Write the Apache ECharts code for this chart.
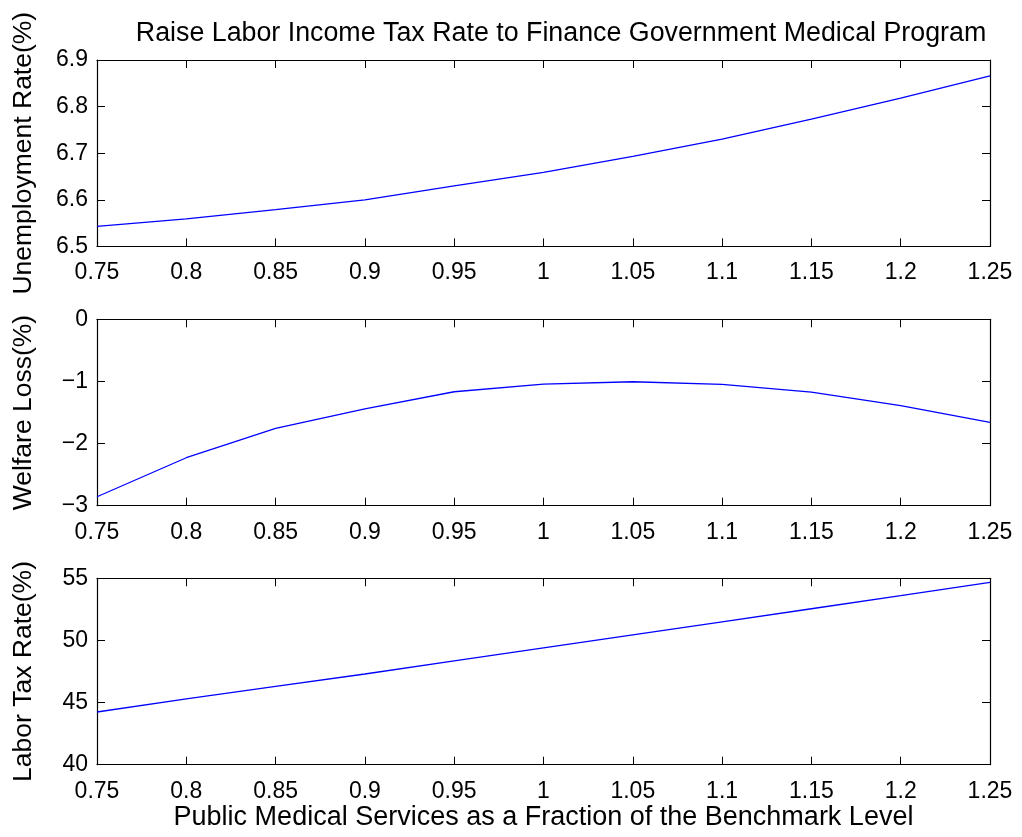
<!DOCTYPE html>
<html>
<head>
<meta charset="utf-8">
<script src="https://cdn.jsdelivr.net/npm/echarts@6/dist/echarts.min.js"></script>
<style>
  html, body { margin: 0; padding: 0; background: #fff; }
  #chart { width: 1022px; height: 837px; }
</style>
</head>
<body>
<div id="chart"></div>
<script>
// Public medical services relative to the benchmark level
const fractions = [0.75, 0.8, 0.85, 0.9, 0.95, 1.0, 1.05, 1.1, 1.15, 1.2, 1.25];

// Unemployment rate (%)
const unemploymentRate = [6.543, 6.559, 6.579, 6.600, 6.630, 6.659, 6.693, 6.730, 6.773, 6.818, 6.866];
// Welfare loss (%)
const welfareLoss = [-2.856, -2.228, -1.755, -1.44, -1.166, -1.042, -1.005, -1.047, -1.171, -1.391, -1.659];
// Labor tax rate (%)
const laborTaxRate = [44.24, 45.3, 46.3, 47.3, 48.35, 49.4, 50.45, 51.5, 52.55, 53.6, 54.68];

const titleText = 'Raise Labor Income Tax Rate to Finance Government Medical Program';
const xLabelText = 'Public Medical Services as a Fraction of the Benchmark Level';

const panels = [
  { name: 'Unemployment Rate(%)', data: unemploymentRate, min: 6.5, max: 6.9, interval: 0.1 },
  { name: 'Welfare Loss(%)', data: welfareLoss, min: -3, max: 0, interval: 1 },
  { name: 'Labor Tax Rate(%)', data: laborTaxRate, min: 40, max: 55, interval: 5 }
];

const FONT = 'Liberation Sans, Arial, Helvetica, sans-serif';
const NAME_SIZE = 26.5;
const gridTops = [60, 319.3, 578.3];
const gridHeight = 186.4;

const grids = [], xAxes = [], yAxes = [], series = [];
const fmt = v => String(+v.toFixed(4)).replace('-', '\u2212');

panels.forEach((p, i) => {
  grids.push({ left: 97, right: 32, top: gridTops[i], height: gridHeight });
  const lineStyle = { color: '#000', width: 1.2 };
  const tick = { show: true, inside: true, length: 8, lineStyle: { color: '#000', width: 1 } };
  // bottom axis with labels
  xAxes.push({
    type: 'value', gridIndex: i, position: 'bottom', min: 0.75, max: 1.25, interval: 0.05,
    axisLine: { show: true, onZero: false, lineStyle },
    axisTick: tick, splitLine: { show: false },
    axisLabel: { color: '#000', fontSize: 23, fontFamily: FONT, margin: 15, formatter: fmt, showMinLabel: true, showMaxLabel: true },
    name: i === 2 ? xLabelText : '', nameLocation: 'middle', nameGap: 38,
    nameTextStyle: { color: '#000', fontSize: 27, fontFamily: FONT }
  });
  // top axis closing the box
  xAxes.push({
    type: 'value', gridIndex: i, position: 'top', min: 0.75, max: 1.25, interval: 0.05,
    axisLine: { show: true, onZero: false, lineStyle },
    axisTick: tick, splitLine: { show: false }, axisLabel: { show: false }
  });
  // left axis with labels
  yAxes.push({
    type: 'value', gridIndex: i, position: 'left', min: p.min, max: p.max, interval: p.interval,
    axisLine: { show: true, onZero: false, lineStyle },
    axisTick: tick, splitLine: { show: false },
    axisLabel: { color: '#000', fontSize: 23, fontFamily: FONT, margin: 9, formatter: fmt },
    name: p.name, nameLocation: 'middle', nameRotate: 90, nameGap: 60,
    nameTextStyle: { color: '#000', fontSize: NAME_SIZE, fontFamily: FONT }
  });
  // right axis closing the box
  yAxes.push({
    type: 'value', gridIndex: i, position: 'right', min: p.min, max: p.max, interval: p.interval,
    axisLine: { show: true, onZero: false, lineStyle },
    axisTick: tick, splitLine: { show: false }, axisLabel: { show: false }
  });
  series.push({
    type: 'line', xAxisIndex: i * 2, yAxisIndex: i * 2,
    data: fractions.map((x, k) => [x, p.data[k]]),
    showSymbol: false, symbol: 'none', smooth: false,
    lineStyle: { color: '#0000ff', width: 1.3 },
    animation: false
  });
});

const chart = echarts.init(document.getElementById('chart'), null, { renderer: 'canvas' });
chart.setOption({
  backgroundColor: '#fff',
  animation: false,
  title: {
    text: titleText, left: 556, top: 15, textAlign: 'center',
    textStyle: { color: '#000', fontSize: 26.8, fontWeight: 'normal', fontFamily: FONT }
  },
  grid: grids,
  xAxis: xAxes,
  yAxis: yAxes,
  series: series
});
</script>
</body>
</html>
